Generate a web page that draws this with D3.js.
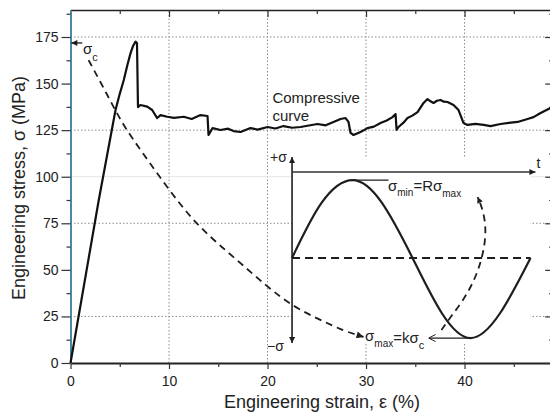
<!DOCTYPE html>
<html><head><meta charset="utf-8">
<script src="https://cdn.jsdelivr.net/npm/d3@7"></script>
<style>body{margin:0;background:#fff;} svg{display:block;font-family:"Liberation Sans",Arial,sans-serif;}</style>
</head><body><svg id="c" width="550" height="416"></svg>
<script>
// ---- data ----
const xTicks = [0, 10, 20, 30, 40];
const xMinor = [5, 15, 25, 35, 45];
const yTicks = [0, 25, 50, 75, 100, 125, 150, 175];
const yMinor = [12.5, 37.5, 62.5, 87.5, 112.5, 137.5, 162.5, 187.5];
const xGrid = [10, 20, 30, 40];
const yGrid = [25, 75, 125, 175];
const xDomain = [0, 49];
const yDomain = [0, 189.5];

// compressive stress-strain curve [strain %, stress MPa]
const compressiveCurve = [
 [0,0],[2.87,87.5],[4.57,135.8],[5.0,144.5],[5.41,151.9],[5.8,160.5],[6.09,166.2],[6.35,170.2],[6.6,172.5],[6.75,171.8],
 [6.85,137.4],[7.1,138.5],[7.79,137.6],[8.29,135.8],[8.8,131.5],[9.14,133.1],[9.82,132.2],[10.5,131.6],[11.5,132.2],
 [12.3,131.0],[13.2,133.1],[13.91,132.6],[14.01,122.4],[14.42,126.1],[15.23,125.1],[16.0,125.8],[16.55,124.5],
 [17.26,124.0],[18.27,126.1],[19.0,125.3],[20.0,126.7],[20.8,125.9],[21.62,127.2],[22.5,126.3],[23.35,126.7],
 [24.2,127.5],[25.08,128.3],[25.9,127.6],[26.7,129.4],[27.41,131.0],[27.92,131.5],[28.22,129.4],[28.43,123.5],
 [28.73,122.4],[29.44,124.0],[30.15,126.1],[30.8,126.9],[31.47,128.8],[32.1,130.2],[32.69,132.0],[33.0,133.6],
 [33.1,125.1],[33.3,126.7],[33.8,129.0],[34.21,131.5],[34.7,132.8],[35.23,134.7],[35.84,139.6],[36.24,141.7],
 [36.55,140.5],[36.85,139.6],[37.2,140.8],[37.56,141.2],[37.9,140.3],[38.27,140.1],[38.88,138.5],[39.39,135.8],
 [39.9,128.8],[40.3,127.8],[41.1,128.4],[41.93,127.8],[42.64,127.2],[43.65,128.3],[44.5,128.9],[45.38,129.4],
 [46.4,131.0],[47.0,132.0],[47.72,134.2],[48.73,136.9]
];
// dashed path from sigma_c to sigma_max
const decayCurve = [
 [1.83,162.6],[3.05,150.8],[4.26,138.5],[5.48,126.7],[7.11,114.3],[10.15,91.8],[12.89,73.5],[16.55,56.9],
 [20.0,40.8],[22.64,30.1],[25.38,23.1],[27.72,17.2],[29.75,14.0]
];
// dashed return arrow inside the inset
const returnCurve = [
 [37.66,17.7],[38.58,24.7],[39.9,33.8],[41.02,44.6],[41.73,55.3],[42.13,66.0],[42.13,75.7],[41.73,84.3],[41.32,89.1]
];
// schematic loading cycle (inset), in chart units
const cycleCurve = [
 [22.49,56.4],[25.5,86.1],[28.63,98.2],[31.6,86.1],[34.72,56.4],[37.7,26.7],[40.61,13.4],[43.6,26.7],[46.7,56.4]
];
const insetAxisStrain = 22.49, insetAxisStress = [10.7, 110.6];
const insetTimeStress = 102.5, insetTimeStrain = [22.49, 47.2];
const meanStress = 56.4, meanStrain = [22.49, 46.7];
const insetBox = [22.49, 46.7, 10.7, 110.6];
const sigmaC = 171.8;
const peakLine = [[28.63,98.2],[32.28,98.2]];
const troughLine = [[40.61,13.4],[36.35,13.4]];

// ---- drawing ----
const svg = d3.select('#c');
const x = d3.scaleLinear().domain(xDomain).range([70.5, 553.2]);
const y = d3.scaleLinear().domain(yDomain).range([363, 10]);
const ink = '#1e1e1e';

const defs = svg.append('defs');
function marker(id, filled, w, h) {
  const m = defs.append('marker').attr('id', id).attr('viewBox', '0 0 10 10')
    .attr('refX', 10).attr('refY', 5).attr('markerWidth', w).attr('markerHeight', h)
    .attr('markerUnits', 'userSpaceOnUse').attr('orient', 'auto');
  if (filled) m.append('path').attr('d', 'M0,0L10,5L0,10z').attr('fill', ink);
  else m.append('path').attr('d', 'M0,0L10,5L0,10').attr('fill', 'none').attr('stroke', ink).attr('stroke-width', 1.4);
}
marker('af', true, 10, 7);
marker('as', true, 8, 6);
marker('ao', false, 7, 8);

// grid
svg.append('g').selectAll('line').data(xGrid).join('line')
  .attr('x1', d => x(d)).attr('x2', d => x(d)).attr('y1', y(0)).attr('y2', y(yDomain[1]))
  .attr('stroke', '#8c8c8c').attr('stroke-width', 1).attr('stroke-dasharray', '1.5,2');
svg.append('g').selectAll('line').data(yGrid).join('line')
  .attr('x1', x(0)).attr('x2', x(xDomain[1])).attr('y1', d => y(d)).attr('y2', d => y(d))
  .attr('stroke', '#8c8c8c').attr('stroke-width', 1).attr('stroke-dasharray', '1.5,2');
svg.append('line').attr('x1', x(0)).attr('x2', x(xDomain[1])).attr('y1', y(100)).attr('y2', y(100))
  .attr('stroke', '#e6e6e6').attr('stroke-width', 1);

// inset background
svg.append('rect').attr('x', x(insetBox[0])).attr('y', y(insetBox[3]))
  .attr('width', x(insetBox[1]) - x(insetBox[0])).attr('height', y(insetBox[2]) - y(insetBox[3]))
  .attr('fill', '#fff');

// axes
function styleAxis(g) {
  g.attr('font-size', 14).attr('font-family', '"Liberation Sans",Arial,sans-serif');
  g.selectAll('text').attr('fill', '#222');
  g.selectAll('.tick line').attr('stroke', '#333').attr('stroke-width', 1.2);
}
const fmt = d3.format('d');
svg.append('g').attr('transform', `translate(0,${y(0)})`)
  .call(d3.axisBottom(x).tickValues(xTicks).tickSize(6).tickPadding(7).tickFormat(fmt).tickSizeOuter(0))
  .call(styleAxis).call(g => g.select('.domain').attr('stroke', '#222').attr('stroke-width', 2));
svg.append('g').attr('transform', `translate(0,${y(0)})`)
  .call(d3.axisBottom(x).tickValues(xMinor).tickSize(4).tickFormat('').tickSizeOuter(0))
  .call(styleAxis).call(g => g.select('.domain').remove());
svg.append('g').attr('transform', `translate(0,${y(yDomain[1])})`)
  .call(d3.axisTop(x).tickValues(xTicks).tickSize(-7).tickFormat('').tickSizeOuter(0))
  .call(styleAxis).call(g => g.select('.domain').attr('stroke', '#222').attr('stroke-width', 1.5));
svg.append('g').attr('transform', `translate(0,${y(yDomain[1])})`)
  .call(d3.axisTop(x).tickValues(xMinor).tickSize(-4).tickFormat('').tickSizeOuter(0))
  .call(styleAxis).call(g => g.select('.domain').remove());
svg.append('g').attr('transform', `translate(${x(0)},0)`)
  .call(d3.axisLeft(y).tickValues(yTicks).tickSize(9).tickPadding(3).tickFormat(fmt).tickSizeOuter(0))
  .call(styleAxis).call(g => g.select('.domain').attr('stroke', '#4a88a4').attr('stroke-width', 2));
svg.append('g').attr('transform', `translate(${x(0)},0)`)
  .call(d3.axisLeft(y).tickValues(yMinor).tickSize(4).tickFormat('').tickSizeOuter(0))
  .call(styleAxis).call(g => g.select('.domain').remove());
svg.append('g').attr('transform', `translate(${x(xDomain[1])},0)`)
  .call(d3.axisRight(y).tickValues(yTicks).tickSize(-8).tickFormat('').tickSizeOuter(0))
  .call(styleAxis).call(g => g.select('.domain').attr('stroke', '#222').attr('stroke-width', 1.5));
svg.append('g').attr('transform', `translate(${x(xDomain[1])},0)`)
  .call(d3.axisRight(y).tickValues(yMinor).tickSize(-4).tickFormat('').tickSizeOuter(0))
  .call(styleAxis).call(g => g.select('.domain').remove());

// axis titles
svg.append('text').attr('x', 322).attr('y', 408).attr('text-anchor', 'middle')
  .attr('font-size', 18).attr('fill', '#222').text('Engineering strain, ε (%)');
svg.append('text').attr('transform', 'translate(25,188) rotate(-90)').attr('text-anchor', 'middle')
  .attr('font-size', 18).attr('fill', '#222').text('Engineering stress, σ (MPa)');

const line = d3.line().x(d => x(d[0])).y(d => y(d[1]));

// inset axes
svg.append('line').attr('x1', x(insetAxisStrain)).attr('x2', x(insetAxisStrain))
  .attr('y1', y(meanStress)).attr('y2', y(insetAxisStress[1]))
  .attr('stroke', ink).attr('stroke-width', 1.6).attr('marker-end', 'url(#as)');
svg.append('line').attr('x1', x(insetAxisStrain)).attr('x2', x(insetAxisStrain))
  .attr('y1', y(meanStress)).attr('y2', y(insetAxisStress[0]))
  .attr('stroke', ink).attr('stroke-width', 1.6).attr('marker-end', 'url(#as)');
svg.append('line').attr('x1', x(insetTimeStrain[0])).attr('x2', x(insetTimeStrain[1]))
  .attr('y1', y(insetTimeStress)).attr('y2', y(insetTimeStress))
  .attr('stroke', '#333').attr('stroke-width', 1.5).attr('marker-end', 'url(#as)');
svg.append('line').attr('x1', x(meanStrain[0])).attr('x2', x(meanStrain[1]))
  .attr('y1', y(meanStress)).attr('y2', y(meanStress))
  .attr('stroke', ink).attr('stroke-width', 2).attr('stroke-dasharray', '8,5');

// cycle
svg.append('path').attr('d', d3.line().x(d => x(d[0])).y(d => y(d[1])).curve(d3.curveNatural)(cycleCurve))
  .attr('fill', 'none').attr('stroke', ink).attr('stroke-width', 2.2);
svg.append('path').attr('d', line(peakLine))
  .attr('fill', 'none').attr('stroke', ink).attr('stroke-width', 1.3);
svg.append('path').attr('d', line(troughLine))
  .attr('fill', 'none').attr('stroke', ink).attr('stroke-width', 1.3).attr('marker-end', 'url(#ao)');
svg.append('path').attr('d', d3.line().x(d => x(d[0])).y(d => y(d[1])).curve(d3.curveBasis)(returnCurve))
  .attr('fill', 'none').attr('stroke', ink).attr('stroke-width', 1.8).attr('stroke-dasharray', '7,5')
  .attr('marker-end', 'url(#as)');

// decay dashed curve
svg.append('path').attr('d', d3.line().x(d => x(d[0])).y(d => y(d[1])).curve(d3.curveBasis)(decayCurve))
  .attr('fill', 'none').attr('stroke', ink).attr('stroke-width', 1.8).attr('stroke-dasharray', '7,5')
  .attr('marker-end', 'url(#af)');

// sigma_c arrow
svg.append('line').attr('x1', x(1.2)).attr('x2', x(0.08)).attr('y1', y(sigmaC)).attr('y2', y(sigmaC))
  .attr('stroke', ink).attr('stroke-width', 1.3).attr('marker-end', 'url(#as)');

// compressive curve
svg.append('path').attr('d', line(compressiveCurve))
  .attr('fill', 'none').attr('stroke', '#111').attr('stroke-width', 2.2).attr('stroke-linejoin', 'round');

// labels
function label(sx, sy, size) {
  return svg.append('text').attr('x', x(sx)).attr('y', y(sy)).attr('font-size', size).attr('fill', '#222');
}
label(20.5, 139.6, 15).text('Compressive');
label(20.5, 129.9, 15).text('curve');
const sc = label(1.27, 165.9, 15);
sc.append('tspan').text('σ');
sc.append('tspan').attr('font-size', 11).attr('dy', 7).text('c');
label(20.25, 107.9, 14).text('+σ');
label(19.95, 6.4, 14).text('−σ');
label(47.3, 104.7, 14).text('t');
const smin = label(32.23, 92.3, 15);
smin.append('tspan').text('σ');
smin.append('tspan').attr('font-size', 10).attr('dy', 5).text('min');
smin.append('tspan').attr('dy', -5).text('=Rσ');
smin.append('tspan').attr('font-size', 10).attr('dy', 6).text('max');
const smax = label(29.9, 11.8, 15);
smax.append('tspan').text('σ');
smax.append('tspan').attr('font-size', 10).attr('dy', 6).text('max');
smax.append('tspan').attr('dy', -4).text('=kσ');
smax.append('tspan').attr('font-size', 11).attr('dy', 6).text('c');
</script></body></html>
